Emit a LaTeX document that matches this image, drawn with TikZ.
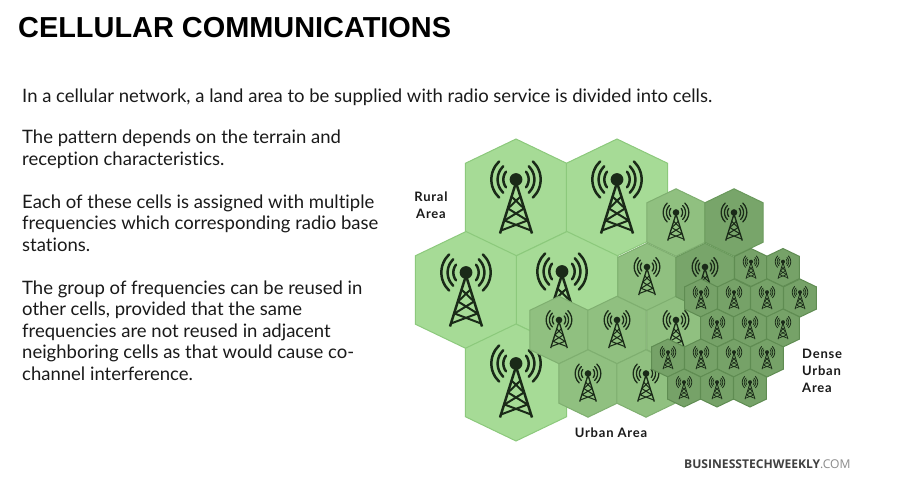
\documentclass[tikz,border=0pt]{standalone}
\usepackage{fontspec}
\setmainfont[Ligatures=NoCommon]{Lato}
\newfontfamily\titlefont{Liberation Sans}
\newfontfamily\footfont{Open Sans}
\definecolor{lightfill}{HTML}{A6DB96}
\definecolor{lightedge}{HTML}{8CC97C}
\definecolor{midfill}{HTML}{90C080}
\definecolor{midedge}{HTML}{7FAF70}
\definecolor{darkfill}{HTML}{78A56A}
\definecolor{darkedge}{HTML}{6A9A5C}
\definecolor{smallfill}{HTML}{76A268}
\definecolor{smalledge}{HTML}{5F8C52}
\definecolor{towercol}{HTML}{1A2A18}
\definecolor{inkcol}{HTML}{1A1A1A}
\newcommand{\hexcell}[5]{%
  \pgfmathsetmacro{\hw}{0.865*#3}\pgfmathsetmacro{\hs}{0.585*#3}
  \draw[fill=#4,draw=#5,line width=1pt,line join=miter]
    (#1,#2-#3) -- (#1+\hw,#2-\hs) -- (#1+\hw,#2+\hs) -- (#1,#2+#3) -- (#1-\hw,#2+\hs) -- (#1-\hw,#2-\hs) -- cycle;}
\newcommand{\towerat}[3]{%
  \begin{scope}[shift={(#1,#2)},scale=#3]
    \pgfmathsetmacro{\lwa}{max(0.7,2.5*#3)}
    \pgfmathsetmacro{\lwb}{max(0.6,2.0*#3)}
    \fill[towercol] (0,0) circle (6.4);
    \foreach \rr/\aa in {12.7/38,18.4/46,24.7/47}{
      \draw[towercol,line width=\lwa pt,line cap=round] plot[domain=-\aa:\aa,samples=7,smooth] ({\rr*cos(\x)},{\rr*sin(\x)});
      \draw[towercol,line width=\lwa pt,line cap=round] plot[domain=-\aa:\aa,samples=7,smooth] ({-\rr*cos(\x)},{\rr*sin(\x)});
    }
    \draw[towercol,line width=\lwa pt,line join=round] (-16,54) -- (0,3) -- (16,54);
    \draw[towercol,line width=\lwb pt]
      (-4.5,17) -- (8,29) (4.5,17) -- (-8,29)
      (-8,29) -- (11.5,41) (8,29) -- (-11.5,41)
      (-11.5,41) -- (15,51) (11.5,41) -- (-15,51);
  \end{scope}}
\begin{document}
\begin{tikzpicture}[x=1pt,y=-1pt,
  bodytext/.style={anchor=north west,align=left,inner sep=0pt,font=\fontsize{18.5}{21.5}\selectfont,text=inkcol},
  arealabel/.style={inner sep=0pt,font=\bfseries\fontsize{13}{17}\selectfont\addfontfeature{LetterSpace=6},text=inkcol}]
\useasboundingbox (0,0) rectangle (900,479);
\fill[white] (0,0) rectangle (900,479);
\node[anchor=base west,inner sep=0pt,font=\titlefont\bfseries\fontsize{28.9}{30}\selectfont,text=black] (title) at (18,37) {CELLULAR COMMUNICATIONS};
\node[bodytext] (intro) at (22,88.5) {In a cellular network, a land area to be supplied with radio service is divided into cells.};
\node[bodytext] (p1) at (22,130) {The pattern depends on the terrain and\\reception characteristics.};
\node[bodytext] (p2) at (22,194.5) {Each of these cells is assigned with multiple\\frequencies which corresponding radio base\\stations.};
\node[bodytext] (p3) at (22,280.5) {The group of frequencies can be reused in\\other cells, provided that the same\\frequencies are not reused in adjacent\\neighboring cells as that would cause co-\\channel interference.};
% large cells
\foreach \cx/\cy in {516/197.5,617/197.5,466/290,567/290,516/382.5}{\hexcell{\cx}{\cy}{58.5}{lightfill}{lightedge}}
\foreach \cx/\cy in {516/198,617/198,466/291,562/290,516/382}{\towerat{\cx}{\cy-18.5}{1}}
% medium cells
\foreach \cx/\cy in {676/222.5,647/277,559/330,617/330,676/330,588/383.5,646/383.5}{\hexcell{\cx}{\cy}{33.7}{midfill}{midedge}\towerat{\cx}{\cy-10}{0.52}}
\foreach \cx/\cy in {734/222.5,705/277}{\hexcell{\cx}{\cy}{33.7}{darkfill}{darkedge}\towerat{\cx}{\cy-10}{0.52}}
% small cells
\foreach \cx/\cy in {751/267.5,783/267.5,701/298,734/298,767/298,800/298,717/328,750/328,783/328,668/358,701/358,734/358,767/358,684/388,717/388,750/388}{\hexcell{\cx}{\cy}{19}{smallfill}{smalledge}\towerat{\cx}{\cy-5.8}{0.315}}
\node[arealabel,align=center] (rural) at (431,205) {Rural\\Area};
\node[arealabel,anchor=center] (urban) at (611,433) {Urban Area};
\node[arealabel,align=left,anchor=west] (dense) at (802,371) {Dense\\Urban\\Area};
\node[anchor=base west,inner sep=0pt,font=\footfont\fontsize{12.1}{14}\selectfont,text=black!75] (brand) at (684,468) {\textbf{BUSINESSTECHWEEKLY}\textcolor{black!45}{.COM}};
\end{tikzpicture}
\end{document}
